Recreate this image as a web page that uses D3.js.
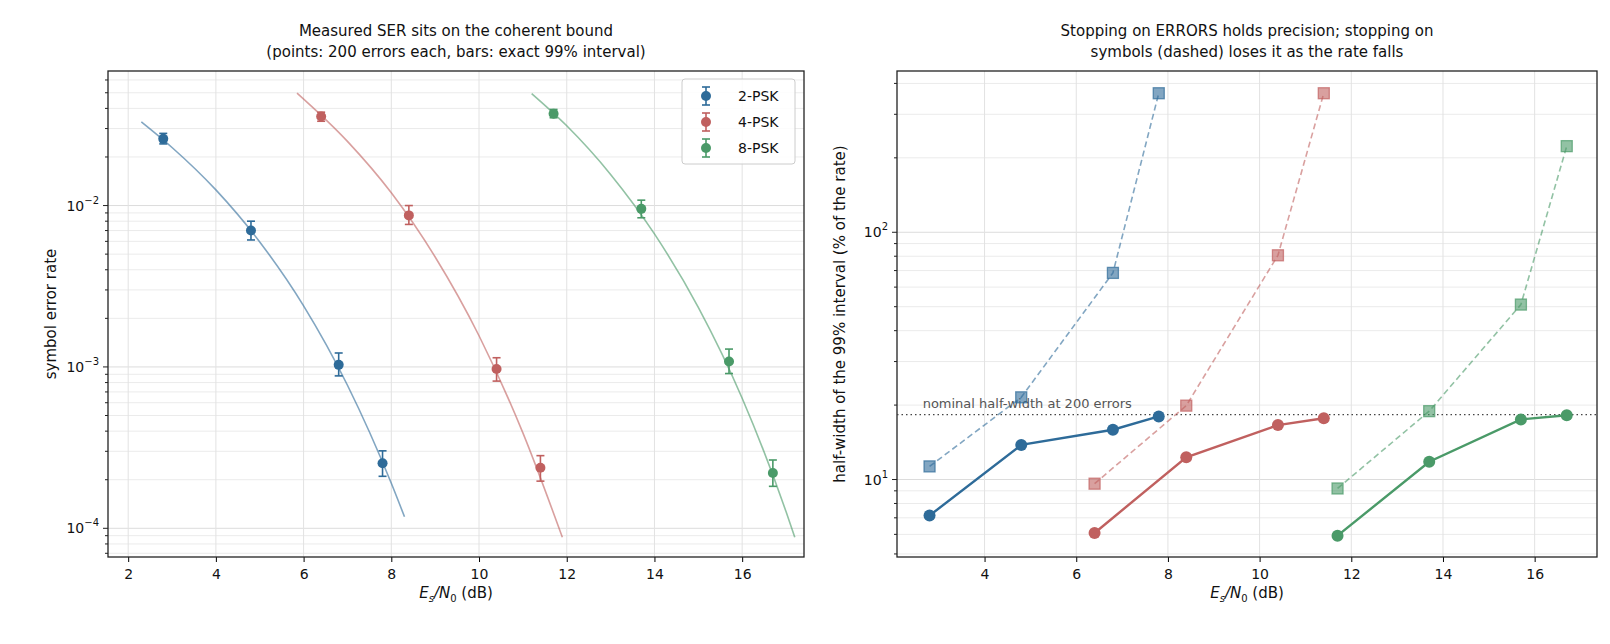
<!DOCTYPE html>
<html>
<head>
<meta charset="utf-8">
<script src="https://cdn.jsdelivr.net/npm/d3@7"></script>
<style>
  body { margin: 0; background: #fff; font-family: "DejaVu Sans", sans-serif; }
  text { fill: #111; }
</style>
</head>
<body>
<svg id="chart" width="1610" height="644"></svg>
<script>
const schemes = ["2-PSK", "4-PSK", "8-PSK"];
const colors = ["#2e6b99", "#c0605f", "#4a9a68"];

// left panel: measured SER with exact 99% bars
const serX = [[2.8, 4.8, 6.8, 7.8], [6.4, 8.4, 10.4, 11.4], [11.7, 13.7, 15.7, 16.7]];
const serMid = [[0.0259, 0.0070, 0.00103, 0.000253], [0.0356, 0.00869, 0.00097, 0.000237], [0.0371, 0.00954, 0.00108, 0.000220]];
const serLo = [[0.0241, 0.00612, 0.00088, 0.000210], [0.0333, 0.00764, 0.000817, 0.000196], [0.0350, 0.0084, 0.00091, 0.000182]];
const serHi = [[0.0280, 0.0080, 0.00122, 0.000302], [0.0379, 0.0100, 0.00114, 0.000282], [0.0394, 0.0108, 0.00129, 0.000265]];

// coherent bound curves
const boundX = [
  [2.3, 3, 4, 5, 6, 7, 8, 8.3],
  [5.85, 7, 8, 9, 10, 11, 11.9],
  [11.2, 12, 13, 14, 15, 16, 17, 17.2]
];
const boundY = [
  [0.033, 0.0229, 0.0125, 0.00595, 0.00239, 0.00077, 0.00019, 0.000118],
  [0.0498, 0.025, 0.012, 0.0048, 0.00156, 0.00039, 0.000088],
  [0.0494, 0.0312, 0.0156, 0.00667, 0.00234, 0.00064, 0.000127, 0.000088]
];

// right panel: half-width of 99% interval, % of rate
const errStopY = [[7.15, 13.8, 15.9, 18.0], [6.08, 12.3, 16.6, 17.7], [5.93, 11.8, 17.5, 18.2]];
const symStopY = [[11.3, 21.5, 68.5, 365], [9.62, 19.9, 80.7, 365], [9.2, 18.9, 51, 223]];
const nominalHalfWidth = 18.3;

const svg = d3.select("#chart");
const plotTop = 71, plotBottom = 557;

function superTick(g, scale, exps) {
  exps.forEach((e) => {
    const t = g.append("text").attr("x", -9).attr("y", scale(Math.pow(10, e)) + 5)
      .attr("text-anchor", "end").attr("font-size", 14);
    t.append("tspan").text("10");
    t.append("tspan").attr("dy", -7).attr("font-size", 10).text(e < 0 ? "\u2212" + (-e) : e);
  });
}

function logMinors(lo, hi) {
  const out = [];
  for (let e = Math.floor(Math.log10(lo)); e <= Math.ceil(Math.log10(hi)); e++)
    for (let k = 1; k < 10; k++) {
      const v = k * Math.pow(10, e);
      if (v >= lo && v <= hi) out.push(v);
    }
  return out;
}

function panel({left, right, xDom, yDom, exps, title, ylabel}) {
  const x = d3.scaleLinear().domain(xDom).range([left, right]);
  const y = d3.scaleLog().domain(yDom).range([plotBottom, plotTop]);
  const g = svg.append("g");
  const minors = logMinors(yDom[0], yDom[1]);
  // grid
  g.append("g").selectAll("line").data(minors).join("line")
    .attr("x1", left).attr("x2", right).attr("y1", (d) => y(d)).attr("y2", (d) => y(d))
    .attr("stroke", (d) => Number.isInteger(Math.log10(d)) ? "#dcdcdc" : "#ebebeb").attr("stroke-width", 1);
  const xt = d3.range(Math.ceil(xDom[0] / 2) * 2, xDom[1], 2);
  g.append("g").selectAll("line").data(xt).join("line")
    .attr("x1", (d) => x(d)).attr("x2", (d) => x(d)).attr("y1", plotTop).attr("y2", plotBottom)
    .attr("stroke", "#e2e2e2");
  // axes
  const ax = g.append("g").attr("transform", `translate(0,${plotBottom})`)
    .call(d3.axisBottom(x).tickValues(xt).tickSize(5).tickSizeOuter(0));
  ax.select(".domain").remove();
  ax.selectAll("text").attr("font-size", 14).attr("dy", "1em").style("font-family", "DejaVu Sans");
  const ay = g.append("g").attr("transform", `translate(${left},0)`);
  ay.selectAll("line").data(minors).join("line")
    .attr("x1", (d) => Number.isInteger(Math.log10(d)) ? -5 : -3).attr("x2", 0)
    .attr("y1", (d) => y(d)).attr("y2", (d) => y(d)).attr("stroke", "#222");
  superTick(ay, y, exps);
  g.append("rect").attr("x", left).attr("y", plotTop).attr("width", right - left).attr("height", plotBottom - plotTop)
    .attr("fill", "none").attr("stroke", "#222").attr("stroke-width", 1.3);
  // titles
  const mid = (left + right) / 2;
  title.forEach((t, i) => g.append("text").attr("x", mid).attr("y", 36 + i * 21)
    .attr("text-anchor", "middle").attr("font-size", 15).text(t));
  const xl = g.append("text").attr("x", mid).attr("y", 598).attr("text-anchor", "middle").attr("font-size", 15);
  xl.append("tspan").attr("font-style", "italic").text("E");
  xl.append("tspan").attr("font-style", "italic").attr("font-size", 10).attr("dy", 4).text("s");
  xl.append("tspan").attr("font-style", "italic").attr("dy", -4).text("/N");
  xl.append("tspan").attr("font-size", 10).attr("dy", 4).text("0");
  xl.append("tspan").attr("dy", -4).text(" (dB)");
  g.append("text").attr("transform", `translate(${left - 52},${(plotTop + plotBottom) / 2}) rotate(-90)`)
    .attr("text-anchor", "middle").attr("font-size", 15).text(ylabel);
  return {g, x, y};
}

// ---- left
const L = panel({left: 108, right: 804, xDom: [1.54, 17.41], yDom: [6.64e-5, 0.0682], exps: [-4, -3, -2],
  title: ["Measured SER sits on the coherent bound", "(points: 200 errors each, bars: exact 99% interval)"],
  ylabel: "symbol error rate"});
schemes.forEach((s, i) => {
  const pts = boundX[i].map((v, j) => [v, boundY[i][j]]);
  L.g.append("path").datum(pts)
    .attr("d", d3.line().x((d) => L.x(d[0])).y((d) => L.y(d[1])).curve(d3.curveMonotoneX))
    .attr("fill", "none").attr("stroke", colors[i]).attr("stroke-opacity", 0.6).attr("stroke-width", 1.6);
  serX[i].forEach((v, j) => {
    const cx = L.x(v);
    const e = L.g.append("g").attr("stroke", colors[i]).attr("stroke-width", 1.6);
    e.append("line").attr("x1", cx).attr("x2", cx).attr("y1", L.y(serLo[i][j])).attr("y2", L.y(serHi[i][j]));
    [serLo[i][j], serHi[i][j]].forEach((w) => e.append("line").attr("x1", cx - 4).attr("x2", cx + 4)
      .attr("y1", L.y(w)).attr("y2", L.y(w)));
    L.g.append("circle").attr("cx", cx).attr("cy", L.y(serMid[i][j])).attr("r", 5).attr("fill", colors[i]);
  });
});
// legend
const lg = L.g.append("g").attr("transform", "translate(682,79)");
lg.append("rect").attr("width", 113).attr("height", 85).attr("rx", 3)
  .attr("fill", "#fff").attr("fill-opacity", 0.85).attr("stroke", "#ccc");
schemes.forEach((s, i) => {
  const yy = 17 + i * 26;
  const e = lg.append("g").attr("stroke", colors[i]).attr("stroke-width", 1.6);
  e.append("line").attr("x1", 24).attr("x2", 24).attr("y1", yy - 9).attr("y2", yy + 9);
  e.append("line").attr("x1", 20).attr("x2", 28).attr("y1", yy - 9).attr("y2", yy - 9);
  e.append("line").attr("x1", 20).attr("x2", 28).attr("y1", yy + 9).attr("y2", yy + 9);
  lg.append("circle").attr("cx", 24).attr("cy", yy).attr("r", 5).attr("fill", colors[i]);
  lg.append("text").attr("x", 56).attr("y", yy + 5).attr("font-size", 14).text(s);
});

// ---- right
const R = panel({left: 897, right: 1597, xDom: [2.09, 17.36], yDom: [4.86, 449], exps: [1, 2],
  title: ["Stopping on ERRORS holds precision; stopping on", "symbols (dashed) loses it as the rate falls"],
  ylabel: "half-width of the 99% interval (% of the rate)"});
R.g.append("line").attr("x1", 897).attr("x2", 1597).attr("y1", R.y(nominalHalfWidth)).attr("y2", R.y(nominalHalfWidth))
  .attr("stroke", "#444").attr("stroke-width", 1.3).attr("stroke-dasharray", "1.5,3");
R.g.append("text").attr("x", R.x(2.65)).attr("y", R.y(nominalHalfWidth) - 7).attr("font-size", 13)
  .style("fill", "#555").text("nominal half-width at 200 errors");
const line = d3.line().x((d) => R.x(d[0])).y((d) => R.y(d[1]));
schemes.forEach((s, i) => {
  const sym = serX[i].map((v, j) => [v, symStopY[i][j]]);
  const err = serX[i].map((v, j) => [v, errStopY[i][j]]);
  R.g.append("path").attr("d", line(sym)).attr("fill", "none").attr("stroke", colors[i])
    .attr("stroke-opacity", 0.6).attr("stroke-width", 1.6).attr("stroke-dasharray", "6,3.5");
  R.g.append("g").selectAll("rect").data(sym).join("rect")
    .attr("x", (d) => R.x(d[0]) - 5.5).attr("y", (d) => R.y(d[1]) - 5.5).attr("width", 11).attr("height", 11)
    .attr("fill", colors[i]).attr("fill-opacity", 0.6).attr("stroke", colors[i]).attr("stroke-opacity", 0.7)
    .attr("stroke-width", 1.3);
  R.g.append("path").attr("d", line(err)).attr("fill", "none").attr("stroke", colors[i]).attr("stroke-width", 2.4);
  R.g.append("g").selectAll("circle").data(err).join("circle")
    .attr("cx", (d) => R.x(d[0])).attr("cy", (d) => R.y(d[1])).attr("r", 6).attr("fill", colors[i]);
});
</script>
</body>
</html>
